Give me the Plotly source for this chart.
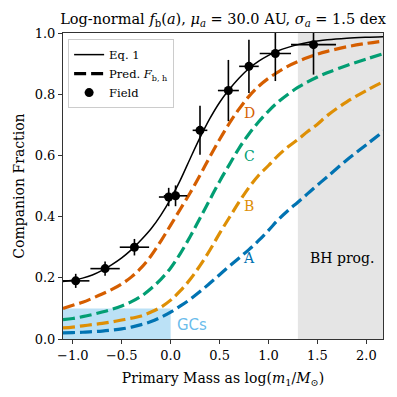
import plotly.graph_objects as go

# ---- data ----
mass_grid = [-1.1, -1.0, -0.9, -0.8, -0.7, -0.6, -0.5, -0.4, -0.3, -0.2, -0.1, 0.0,
             0.1, 0.2, 0.3, 0.4, 0.5, 0.6, 0.7, 0.8, 0.9, 1.0, 1.1, 1.2, 1.3, 1.4,
             1.5, 1.6, 1.8, 2.0, 2.2]
eq1 = [0.188, 0.192, 0.199, 0.209, 0.224, 0.243, 0.265, 0.292, 0.324, 0.36, 0.405, 0.458,
       0.52, 0.59, 0.658, 0.72, 0.773, 0.816, 0.853, 0.884, 0.908, 0.927, 0.942, 0.953,
       0.962, 0.969, 0.974, 0.978, 0.983, 0.986, 0.988]
pred_D = [0.10, 0.11, 0.12, 0.133, 0.147, 0.162, 0.18, 0.203, 0.233, 0.272, 0.32, 0.372,
          0.425, 0.478, 0.535, 0.595, 0.652, 0.705, 0.752, 0.793, 0.826, 0.852, 0.873, 0.892,
          0.907, 0.92, 0.931, 0.94, 0.955, 0.966, 0.975]
pred_C = [0.063, 0.067, 0.073, 0.08, 0.088, 0.097, 0.108, 0.122, 0.14, 0.165, 0.195, 0.232,
          0.28, 0.335, 0.395, 0.455, 0.515, 0.57, 0.624, 0.67, 0.71, 0.745, 0.775, 0.8,
          0.822, 0.84, 0.856, 0.87, 0.894, 0.915, 0.935]
pred_B = [0.036, 0.039, 0.043, 0.047, 0.051, 0.056, 0.062, 0.068, 0.075, 0.088, 0.104, 0.127,
          0.158, 0.195, 0.24, 0.29, 0.345, 0.397, 0.448, 0.495, 0.535, 0.567, 0.6, 0.628,
          0.652, 0.678, 0.702, 0.73, 0.775, 0.812, 0.845]
pred_A = [0.02, 0.021, 0.022, 0.024, 0.026, 0.029, 0.033, 0.039, 0.047, 0.057, 0.071, 0.088,
          0.108, 0.13, 0.155, 0.182, 0.21, 0.238, 0.265, 0.292, 0.322, 0.355, 0.39, 0.42,
          0.447, 0.475, 0.503, 0.53, 0.585, 0.635, 0.685]

field_x = [-0.97, -0.67, -0.37, -0.02, 0.05, 0.30, 0.59, 0.80, 1.07, 1.46]
field_y = [0.19, 0.23, 0.30, 0.464, 0.468, 0.682, 0.812, 0.891, 0.933, 0.962]
field_yerr = [0.023, 0.023, 0.027, 0.03, 0.034, 0.08, 0.10, 0.087, 0.09, 0.098]
field_xerr = [0.14, 0.15, 0.15, 0.10, 0.12, 0.075, 0.107, 0.10, 0.16, 0.23]

pred_names = ["A", "B", "C", "D"]
pred_colors = ["#0173B2", "#DE8F05", "#029E73", "#D55E00"]
label_x = [0.80, 0.80, 0.81, 0.81]
label_y = [0.265, 0.436, 0.597, 0.739]

x_ticks = [-1.0, -0.5, 0.0, 0.5, 1.0, 1.5, 2.0]
y_ticks = [0.0, 0.2, 0.4, 0.6, 0.8, 1.0]

GC_MASS_MAX = 0.0
GC_FRAC_MAX = 0.1
BH_MASS_MIN = 1.3

SERIF = "DejaVu Serif"

fig = go.Figure()

# shaded regions
fig.add_shape(type="rect", xref="x", yref="y", x0=-1.1, x1=GC_MASS_MAX, y0=0, y1=GC_FRAC_MAX,
              fillcolor="rgba(86,180,233,0.4)", line_width=0, layer="below")
fig.add_shape(type="rect", xref="x", yref="paper", x0=BH_MASS_MIN, x1=2.2, y0=0, y1=1,
              fillcolor="rgba(0,0,0,0.10)", line_width=0, layer="below")

for name, col, ys in zip(pred_names, pred_colors, [pred_A, pred_B, pred_C, pred_D]):
    fig.add_trace(go.Scatter(x=mass_grid, y=ys, mode="lines", showlegend=False,
                             line=dict(color=col, width=3.2, dash="12px,5px", shape="spline"),
                             name=name))

fig.add_trace(go.Scatter(x=mass_grid, y=eq1, mode="lines", name="Eq. 1",
                         line=dict(color="black", width=1.5, shape="spline")))
fig.add_trace(go.Scatter(x=[None], y=[None], mode="lines", name="Pred. <i>F</i><sub>b, h</sub>",
                         line=dict(color="black", width=3.2, dash="12px,5px")))
fig.add_trace(go.Scatter(x=field_x, y=field_y, mode="markers", name="Field",
                         marker=dict(color="black", size=9),
                         error_y=dict(type="data", array=field_yerr, color="black", thickness=1.6, width=0),
                         error_x=dict(type="data", array=field_xerr, color="black", thickness=1.6, width=0)))

for name, col, lx, ly in zip(pred_names, pred_colors, label_x, label_y):
    fig.add_annotation(x=lx, y=ly, text=name, showarrow=False,
                       font=dict(family=SERIF, size=14, color=col))

fig.add_annotation(x=1.75, y=0.266, text="BH prog.", showarrow=False,
                   font=dict(family=SERIF, size=14, color="black"))
fig.add_annotation(x=0.04, y=0.047, text="GCs", showarrow=False, xanchor="left",
                   font=dict(family="DejaVu Sans", size=15, color="rgba(86,180,233,0.9)"))

fig.update_layout(
    width=397, height=397,
    margin=dict(l=63, r=14, t=33, b=58),
    paper_bgcolor="white", plot_bgcolor="white",
    font=dict(family=SERIF, size=13, color="black"),
    title=dict(text="Log-normal <i>f</i><sub>b</sub>(<i>a</i>), <i>μ<sub>a</sub></i> = 30.0 AU, "
                    "<i>σ<sub>a</sub></i> = 1.5 dex",
               x=0.5, xref="paper", xanchor="center", y=1 - 19 / 397, yref="container",
               yanchor="middle", font=dict(family=SERIF, size=14.5, color="black")),
    legend=dict(x=0.016, y=0.98, xanchor="left", yanchor="top", bgcolor="white",
                bordercolor="#cccccc", borderwidth=1, itemwidth=30,
                font=dict(family=SERIF, size=11.5, color="black")),
    showlegend=True,
)
fig.update_xaxes(range=[-1.1, 2.17], tickvals=x_ticks, ticktext=["−1.0", "−0.5", "0.0", "0.5", "1.0", "1.5", "2.0"],
                 showgrid=False, zeroline=False, showline=True, linecolor="#333", linewidth=1,
                 mirror=True, ticks="outside", ticklen=4, tickcolor="#333",
                 title=dict(text="Primary Mass as log(<i>m</i><sub>1</sub>/<i>M</i><sub>⊙</sub>)",
                            standoff=11, font=dict(family=SERIF, size=14)))
fig.update_yaxes(range=[0, 1], tickvals=y_ticks, ticktext=["0.0", "0.2", "0.4", "0.6", "0.8", "1.0"],
                 showgrid=False, zeroline=False, showline=True, linecolor="#333", linewidth=1,
                 mirror=True, ticks="outside", ticklen=4, tickcolor="#333",
                 title=dict(text="Companion Fraction", standoff=6, font=dict(family=SERIF, size=14)))

fig.write_html("out.html", config={"displayModeBar": False},
               post_script="document.body.style.margin='0';document.body.style.padding='0';")
